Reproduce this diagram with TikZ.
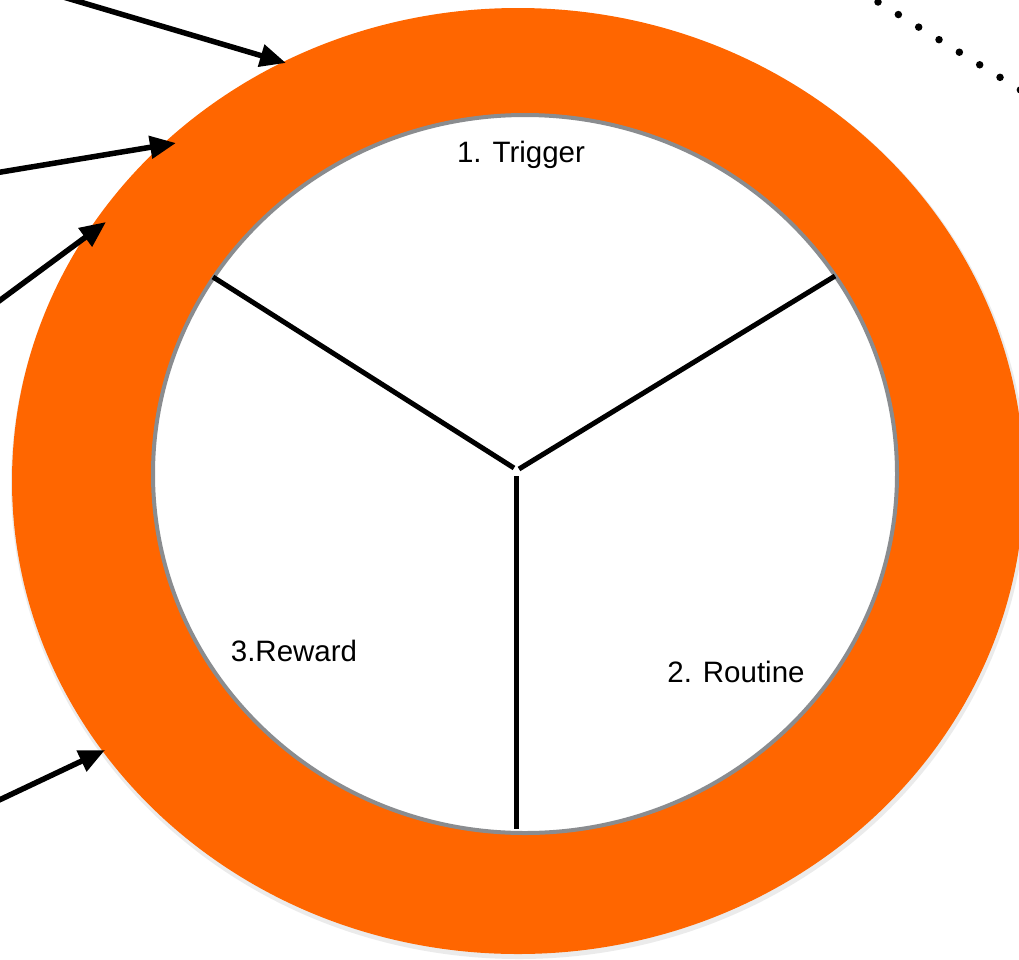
\documentclass[tikz,border=0pt]{standalone}
\usepackage{fontspec}
\setmainfont{Liberation Sans}
\usetikzlibrary{shapes.geometric,arrows.meta}
\definecolor{ringorange}{RGB}{255,102,0}
\definecolor{rimgray}{RGB}{138,140,143}
\tikzset{
  ring/.style={ellipse,draw=none,fill=ringorange,inner sep=0pt,outer sep=0pt,minimum width=1012pt,minimum height=946pt},
  face/.style={ellipse,draw=rimgray,line width=4pt,fill=white,inner sep=0pt,outer sep=0pt,minimum width=744pt,minimum height=718pt},
  spoke/.style={draw=black,line width=5pt},
  feed/.style={draw=black,line width=5.5pt,-{Triangle[length=26pt,width=22pt]}},
  dotline/.style={draw=black,line width=7.5pt,line cap=round,dash pattern=on 0pt off 23.9pt},
  lbl/.style={font=\fontsize{29.5}{33}\selectfont,anchor=base,inner sep=0pt}
}
\begin{document}
\begin{tikzpicture}[x=1pt,y=-1pt]
\useasboundingbox (0,0) rectangle (1019,959);
\clip (0,0) rectangle (1019,959);
% soft shadow of the ring
\fill[black,opacity=0.08] (519,484) ellipse [x radius=508pt,y radius=475pt];
\node[ring] (outer) at (518,481) {};
\node[face] (inner) at (525,474) {};
% spokes
\coordinate (hubL) at (514,468);
\coordinate (hubR) at (519,469);
\coordinate (hubD) at (516,476);
\coordinate (spokeL) at (213,277);
\coordinate (spokeR) at (835,276);
\coordinate (spokeD) at (516,829);
\draw[spoke] (hubL) -- (spokeL);
\draw[spoke] (hubR) -- (spokeR);
\draw[spoke] (hubD) -- (spokeD);
% labels
\node[lbl] (trigger) at (521,162) {1. Trigger};
\node[lbl] (reward) at (294,661) {3.Reward};
\node[lbl] (routine) at (736,682) {2. Routine};
% incoming arrows
\coordinate (a1) at (60,-4);
\coordinate (a2) at (-5,173);
\coordinate (a3) at (-5,304);
\coordinate (a4) at (-5,802);
\coordinate (t1) at (286,63);
\coordinate (t2) at (176,143);
\coordinate (t3) at (106,222);
\coordinate (t4) at (105,750);
\draw[feed] (a1) -- (t1);
\draw[feed] (a2) -- (t2);
\draw[feed] (a3) -- (t3);
\draw[feed] (a4) -- (t4);
% dotted line
\coordinate (d1) at (878,2);
\coordinate (d2) at (1040,102);
\draw[dotline] (d1) -- (d2);
\end{tikzpicture}
\end{document}
